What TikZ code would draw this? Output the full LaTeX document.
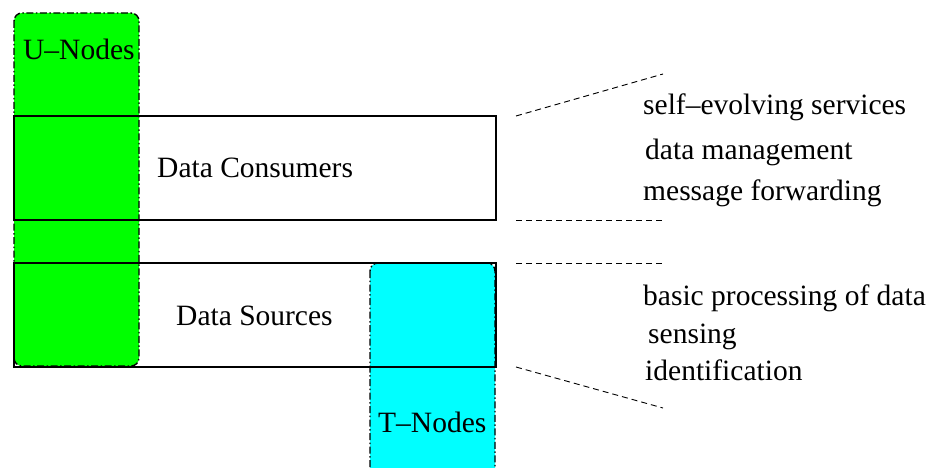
\documentclass[tikz,border=0pt]{standalone}
\usepackage{fontspec}
\newfontfamily\figfont{Liberation Serif}
\definecolor{ugreen}{RGB}{0,255,0}
\definecolor{tcyan}{RGB}{0,255,255}
\tikzset{
  nodebox/.style={rounded corners=8pt, draw=black, line width=1.4pt,
    dash pattern=on 7pt off 2.5pt on 1.5pt off 2.5pt},
  layerbox/.style={draw=black, line width=1.2pt, fill=none},
  guide/.style={draw=black, line width=0.9pt, dash pattern=on 6pt off 4pt},
  lbl/.style={anchor=base west, inner sep=0pt, font=\figfont\fontsize{29.5}{35}\selectfont},
}
\begin{document}
\begin{tikzpicture}[x=1pt, y=-1pt]
\useasboundingbox (0,0) rectangle (931,468);
\clip (0,0) rectangle (931,468);

% coloured node groups (fills)
\fill[ugreen, rounded corners=8pt] (14,13) rectangle (139,366);
\fill[tcyan, rounded corners=8pt] (370,263) rectangle (495,490);

% layers
\draw[layerbox] (14,116) rectangle (496,220);
\draw[layerbox] (14,263) rectangle (496,367);

% dash-dot outlines of the node groups
\draw[nodebox] (14,13) rectangle (139,366);
\draw[nodebox] (370,263) rectangle (495,490);

% labels
\node[lbl] (unodes) at (23,60) {U–Nodes};
\node[lbl] (tnodes) at (378,432) {T–Nodes};
\node[lbl] (cons) at (157,177) {Data Consumers};
\node[lbl] (src) at (176,325) {Data Sources};

\node[lbl] (f1) at (643,115) {self–evolving services};
\node[lbl] (f2) at (645,159) {data management};
\node[lbl] (f3) at (643,200) {message forwarding};
\node[lbl] (f4) at (643,305) {basic processing of data};
\node[lbl] (f5) at (648,343) {sensing};
\node[lbl] (f6) at (645,380) {identification};

% guide lines towards the function lists
\coordinate (a1) at (516,116);
\coordinate (b1) at (663,74);
\coordinate (a2) at (516,220);
\coordinate (b2) at (663,220);
\coordinate (a3) at (516,263);
\coordinate (b3) at (663,263);
\coordinate (a4) at (516,367);
\coordinate (b4) at (663,408);
\draw[guide] (a1) -- (b1);
\draw[guide] (a2) -- (b2);
\draw[guide] (a3) -- (b3);
\draw[guide] (a4) -- (b4);
\end{tikzpicture}
\end{document}
